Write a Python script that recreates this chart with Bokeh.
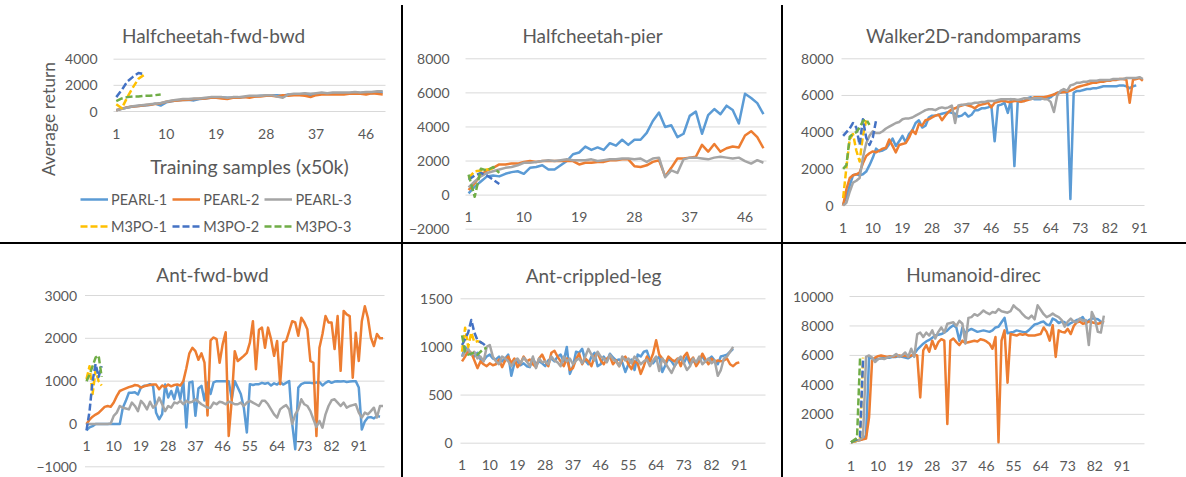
from bokeh.plotting import figure
from bokeh.models import FixedTicker, Range1d, Label, Legend, LegendItem, Div
from bokeh.layouts import row, column
from bokeh.embed import file_html
from bokeh.resources import INLINE

# ---------------- data ----------------
SERIES = ["PEARL-1", "PEARL-2", "PEARL-3", "M3PO-1", "M3PO-2", "M3PO-3"]
TICKS_49 = [1, 10, 19, 28, 37, 46]
TICKS_91 = [1, 10, 19, 28, 37, 46, 55, 64, 73, 82, 91]

# Halfcheetah-fwd-bwd
hfb_pearl1 = [100, 200, 300, 380, 420, 450, 500, 600, 450, 700, 780, 850, 880, 900, 850, 950, 1000, 1050, 1050, 1100,
              1050, 1050, 1050, 1100, 1150, 1150, 1200, 1200, 1250, 1250, 1200, 1300, 1300, 1300, 1350, 1200, 1350, 1350, 1400, 1400,
              1400, 1400, 1400, 1400, 1400, 1450, 1400, 1450, 1450]
hfb_pearl2 = [100, 220, 320, 380, 420, 480, 520, 580, 620, 750, 800, 850, 880, 900, 950, 980, 1000, 1050, 1050, 1000,
              950, 1050, 1050, 1100, 1050, 1150, 1150, 1200, 1200, 1150, 1250, 1200, 1250, 1250, 1200, 1100, 1250, 1300, 1300, 1300,
              1300, 1300, 1350, 1350, 1350, 1300, 1400, 1350, 1300]
hfb_pearl3 = [100, 200, 300, 400, 450, 500, 550, 600, 650, 750, 850, 900, 950, 950, 1000, 1000, 1050, 1100, 1100, 1100,
              1050, 1100, 1100, 1150, 1200, 1200, 1200, 1250, 1250, 1150, 1050, 1300, 1350, 1350, 1400, 1350, 1400, 1450, 1400, 1450,
              1450, 1450, 1450, 1500, 1450, 1500, 1500, 1550, 1550]
hfb_m3po1 = [550, 250, 1100, 1850, 2500, 2800]
hfb_m3po2 = [1100, 1650, 2300, 2650, 2950, 2850]
hfb_m3po3 = [800, 1000, 1100, 1150, 1150, 1200, 1200, 1250, 1300]

# Halfcheetah-pier
hp_pearl1 = [100, 500, 800, 1100, 1150, 1100, 1250, 1350, 1400, 1250, 1600, 1650, 1750, 1500, 1500, 1750, 2000, 2400, 2500, 2850,
             2650, 2800, 2650, 3050, 2900, 3250, 2950, 3250, 3250, 3650, 4350, 4850, 4000, 4100, 3400, 3600, 4650, 4900, 3600, 4700,
             5050, 4750, 5250, 5000, 4200, 5950, 5700, 5400, 4750]
hp_pearl2 = [300, 700, 1200, 1450, 1600, 1800, 1800, 1850, 1850, 1950, 2000, 1950, 2000, 2000, 2000, 2000, 2000, 2000, 1800, 1900,
             1900, 1950, 1950, 2050, 2050, 2100, 2100, 1700, 1650, 1750, 1950, 2050, 1100, 1600, 2150, 2150, 2200, 2250, 2950, 2550,
             3000, 2550, 2750, 2850, 2800, 3500, 3750, 3400, 2750]
hp_pearl3 = [450, 800, 1100, 1300, 1400, 1500, 1600, 1650, 1750, 1900, 1900, 1950, 2000, 2050, 2000, 2050, 2100, 2050, 2050, 2050,
             2100, 2000, 2050, 2100, 2100, 2150, 2150, 2100, 2150, 1950, 2150, 2200, 1050, 1450, 1300, 2100, 2200, 2200, 2150, 2100,
             2200, 2250, 2200, 2150, 2200, 2000, 1850, 2050, 1900]
hp_m3po1 = [1000, 1400, 1450, 1500, 1550]
hp_m3po2 = [900, 1150, 1300, 1150, 900, 650]
hp_m3po3 = [1200, -100, 1550, 1450, 1650, 1300]

# Walker2D-randomparams
w_pearl1 = [50, 500, 1100, 1650, 1700, 1650, 1700, 1850, 2200, 2600, 3100, 2950, 3000, 3100, 3350, 3650, 3250, 3500, 3800, 3450,
            3900, 4100, 4500, 4650, 4250, 4350, 4800, 4900, 4900, 4950, 5000, 5050, 5100, 5050, 5000, 4850, 4900, 5050, 4850, 4950,
            5200, 5200, 5300, 5300, 5350, 5450, 3500, 5450, 5500, 5600, 5050, 5800, 2150, 5650, 5700, 5700, 5850, 5900, 5800, 5800,
            5800, 5850, 5850, 5900, 6050, 6150, 6150, 6200, 6150, 350, 6150, 6250, 6250, 6300, 6350, 6350, 6400, 6400, 6450, 6500,
            6500, 6500, 6500, 6500, 6550, 6550, 6500, 6400, 6500, 6550]
w_pearl2 = [0, 900, 1500, 1650, 1700, 1800, 2300, 2700, 2850, 2950, 2900, 3000, 3100, 3150, 3600, 3250, 2900, 3300, 3350, 3400,
            3700, 4100, 3900, 4450, 4350, 4650, 4700, 4800, 4900, 4950, 4650, 4900, 5100, 5250, 5300, 5400, 5450, 5500, 5450, 5400,
            5300, 5450, 5500, 5550, 5600, 5350, 5600, 5650, 5700, 5700, 5650, 5650, 5700, 5700, 5650, 5700, 5750, 5800, 5900, 5900,
            5900, 5900, 5950, 6000, 6050, 6150, 6180, 6180, 6200, 6270, 6350, 6450, 6500, 6550, 6600, 6650, 6700, 6700, 6750, 6750,
            6800, 6800, 6850, 6850, 6900, 6900, 6850, 5600, 6850, 6900, 6950, 6800]
w_pearl3 = [0, 150, 750, 1250, 1350, 1500, 2600, 3400, 3800, 4050, 3950, 3950, 4050, 4200, 4300, 4400, 4500, 4550, 4700, 4750,
            4750, 4800, 4900, 5000, 5100, 5200, 5250, 5250, 5200, 5300, 5350, 5300, 5350, 5450, 4500, 5450, 5500, 5500, 5550, 5550,
            5600, 5600, 5650, 5650, 5700, 5700, 5700, 5750, 5800, 5800, 5800, 5800, 5800, 5750, 5800, 5850, 5850, 5800, 5850, 5850,
            5850, 5800, 5800, 5650, 5100, 6000, 6250, 6350, 6250, 6550, 6600, 6700, 6700, 6750, 6750, 6800, 6800, 6800, 6850, 6850,
            6850, 6850, 6900, 6900, 6900, 6900, 6950, 6950, 6950, 6950, 7000, 6900]
w_m3po1 = [400, 2100, 3600, 3900, 3000, 2400, 3800, 4650]
w_m3po2 = [3800, 4000, 4200, 4500, 4250, 3300, 4700, 3700, 3300, 3700, 4650]
w_m3po3 = [2000, 2200, 3750, 3900, 4000, 4250, 4600, 4700, 4400]

# Ant-fwd-bwd
af_pearl1 = [-150, -80, -50, 0, 0, 0, 0, 0, 0, 0, 0, 0, 380, 540, 730, 730, 740, 690, 850, 890,
             900, 930, 890, 260, 110, 230, 920, 620, 770, 580, 870, 580, 1000, -80, 970, 990, 190, 830, 890, 550,
             970, 700, 970, 1000, 1000, 1000, 1000, 1000, 580, 1000, 850, 700, 380, -200, 930, 910, 930, 930, 960, 940,
             960, 900, 950, 920, 980, 920, 960, 1000, 0, -590, 850, 930, 960, 960, 960, 950, 970, 980, 900, 960,
             1000, 960, 990, 1000, 990, 1000, 980, 990, 1000, 1000, 850, -130, 60, 150, 160, 130, 190, 170]
af_pearl2 = [0, 100, 170, 220, 260, 330, 400, 420, 400, 500, 650, 770, 800, 830, 860, 880, 910, 900, 850, 880,
             900, 910, 920, 920, 810, 900, 860, 920, 880, 910, 920, 900, 1000, 1300, 1650, 1780, 1700, 1500, 1650, 1430,
             200, 1950, 2020, 1980, 1430, 1860, 2140, -280, 550, 1700, 1470, 1530, 1590, 1660, 1900, 2400, 1280, 2200, 2250, 1780,
             2250, 1980, 1590, 1940, 930, 1900, 1940, 2170, 2400, 2370, 2060, 2480, 2370, 2210, 1470, 1430, -280, 1780, 2100, 2520,
             2370, 2370, 1750, 2520, 1240, 2640, 2560, 2520, 1080, 2130, 1470, 2400, 2750, 2480, 2020, 1820, 2100, 2000, 2000]
af_pearl3 = [0, 0, 0, 0, 0, 0, 0, 0, 10, 190, 265, 420, 380, 360, 340, 500, 420, 300, 540, 460,
             340, 520, 380, 450, 615, 460, 300, 420, 380, 500, 480, 540, 460, 540, 500, 520, 576, 520, 460, 420,
             380, 380, 500, 460, 520, 500, 460, 520, 500, 460, 460, 500, 420, 500, 540, 500, 460, 420, 540, 540,
             460, 340, 225, 150, 340, 400, 440, 340, 0, 225, 340, 576, 460, 420, 300, 110, -70, 70, -85, 225,
             420, 553, 576, 500, 420, 500, 380, 420, 440, 460, 265, 150, 265, 225, 300, 380, 150, 420, 420]
af_m3po1 = [1050, 1350, 700, 1250, 1000, 900]
af_m3po2 = [-150, 300, 1000, 1400, 1100, 1350]
af_m3po3 = [1000, 1150, 1350, 1550, 1600, 1100]

# Ant-crippled-leg
ac_pearl1 = [900, 1000, 960, 920, 900, 940, 870, 860, 900, 920, 880, 870, 900, 850, 880, 920, 700, 830, 850, 810,
             830, 800, 790, 880, 820, 850, 830, 800, 860, 880, 850, 900, 920, 850, 1000, 720, 800, 950, 940, 980,
             860, 820, 900, 940, 800, 820, 900, 850, 930, 890, 860, 870, 840, 740, 820, 870, 760, 920, 900, 950,
             960, 860, 830, 870, 900, 740, 810, 880, 850, 800, 850, 880, 830, 900, 820, 860, 820, 880, 900, 850,
             870, 900, 860, 820, 900, 910, 920, 950, 980]
ac_pearl2 = [850, 900, 960, 940, 860, 780, 850, 820, 800, 830, 810, 820, 870, 790, 860, 900, 830, 880, 790, 830,
             900, 850, 870, 820, 790, 880, 920, 850, 800, 940, 960, 900, 850, 800, 880, 760, 780, 870, 930, 820,
             880, 850, 800, 900, 940, 860, 820, 880, 900, 820, 860, 800, 870, 900, 820, 770, 850, 830, 720, 800,
             900, 850, 930, 1070, 920, 880, 830, 900, 870, 850, 880, 800, 900, 940, 850, 890, 800, 850, 930, 870,
             820, 880, 840, 860, 850, 860, 880, 820, 800, 830, 840]
ac_pearl3 = [900, 950, 980, 920, 950, 880, 900, 850, 1000, 1020, 900, 850, 820, 900, 880, 850, 800, 850, 880, 830,
             890, 850, 800, 900, 780, 880, 840, 850, 820, 900, 860, 840, 800, 900, 850, 880, 820, 860, 880, 830,
             900, 980, 920, 860, 950, 900, 880, 840, 920, 870, 850, 800, 900, 860, 880, 830, 900, 870, 820, 850,
             870, 800, 860, 900, 750, 880, 830, 780, 730, 800, 870, 900, 830, 760, 800, 880, 840, 900, 820, 850,
             880, 830, 860, 700, 760, 880, 900, 950, 1000]
ac_m3po1 = [950, 1200, 1000, 1150, 1050, 1060, 1050, 1020]
ac_m3po2 = [1020, 1080, 1150, 1280, 1150, 1070, 1050, 1030, 1000]
ac_m3po3 = [1120, 950, 920, 930, 940, 920, 950, 980, 990]

# Humanoid-direc
hd_pearl1 = [100, 150, 200, 250, 350, 550, 5850, 5800, 5750, 5750, 5800, 5800, 5850, 5850, 5900, 5900, 5950, 5900, 5850, 5800,
             5950, 6100, 6400, 6600, 6800, 6950, 7050, 7200, 7350, 7400, 7450, 7550, 7700, 7900, 8050, 7900, 7000, 7900, 7500, 7700,
             7800, 7700, 7600, 7650, 7700, 7650, 7600, 7700, 7900, 7950, 8250, 8550, 7500, 7550, 7600, 7700, 7650, 7600, 7550, 7700,
             7900, 8100, 8150, 8250, 8300, 8100, 8050, 8500, 8400, 8200, 8300, 8250, 8050, 8200, 8300, 8400, 8450, 8600, 8200, 8400,
             8500, 8500, 8450, 8300, 8200]
hd_pearl2 = [100, 150, 200, 250, 300, 350, 1800, 5650, 5850, 5950, 6000, 5950, 5900, 5950, 5900, 5950, 6000, 5950, 6000, 5900,
             6000, 6050, 6000, 3150, 6350, 6700, 6250, 7000, 6450, 6900, 7100, 7000, 1350, 7000, 7150, 6900, 6700, 7000, 6850, 6900,
             6950, 7000, 6950, 7100, 7050, 6950, 6800, 6450, 7250, 100, 7000, 7700, 4150, 7450, 7400, 7350, 7450, 7400, 7450, 7350,
             7350, 7350, 7400, 7450, 7900, 7600, 7000, 8050, 5900, 7700, 7600, 7550, 7800, 7450, 8000, 8250, 8300, 8150, 8200, 8300,
             8250, 8200, 8150, 8200, 8350]
hd_pearl3 = [100, 150, 200, 300, 450, 5900, 6000, 5850, 5550, 5750, 5800, 5750, 5850, 5900, 5950, 6100, 5900, 6000, 6200, 5900,
             6450, 5900, 7450, 7550, 7250, 7550, 7350, 7700, 7150, 7600, 7900, 7550, 8150, 8200, 8250, 8000, 8350, 8150, 6800, 8550,
             8600, 8800, 8700, 8850, 9050, 8900, 8800, 8950, 8900, 9150, 9000, 8950, 8900, 9000, 9400, 9200, 9050, 8800, 8600, 8500,
             8700, 8450, 9400, 9100, 8800, 8600, 8700, 8850, 8700, 8600, 8400, 7950, 8300, 8500, 8300, 8250, 8500, 8350, 8400, 6700,
             8950, 8500, 7600, 7550, 8700]
hd_m3po1 = [100, 150, 250, 350, 5850]
hd_m3po2 = [100, 200, 300, 450, 5750]
hd_m3po3 = [100, 250, 400, 5800]

# ---------------- style ----------------
FONT = "Lato"
TXT = "#595959"
GRID = "#D9D9D9"
COLORS = ["#5B9BD5", "#ED7D31", "#A5A5A5", "#FFC000", "#4472C4", "#70AD47"]
DASHES = ["solid", "solid", "solid", "7 3", "7 3", "7 3"]


class Panel:
    """Figure whose frame fills the whole canvas; the plot area is placed by L/R/T/B (pixels)."""

    def __init__(self, title, series, n_cat, y_lo, y_hi, y_step, x_ticks, w, h,
                 L, R, T, B, ystand, tx, tb):
        self.d = (R - L) / n_cat
        self.x0 = 0.5 - L / self.d
        x1 = n_cat + 0.5 + (w - R) / self.d
        self.k = (y_hi - y_lo) / (B - T)
        self.y1 = y_hi + T * self.k
        y0 = y_lo - (h - B) * self.k
        p = figure(width=w, height=h, output_backend="svg", toolbar_location=None,
                   x_range=Range1d(self.x0, x1), y_range=Range1d(y0, self.y1),
                   min_border=0, outline_line_color=None, background_fill_color="white",
                   border_fill_color="white", margin=0)
        p.xgrid.visible = False
        p.ygrid.visible = False
        yt = list(range(y_lo, y_hi + 1, y_step))
        p.segment(x0=[0.5] * len(yt), y0=yt, x1=[n_cat + 0.5] * len(yt), y1=yt,
                  line_color=GRID, line_width=1)
        p.xaxis.ticker = FixedTicker(ticks=x_ticks)
        p.yaxis.ticker = FixedTicker(ticks=yt)
        p.xaxis.fixed_location = 0
        p.yaxis.fixed_location = 0.5
        for ax in (p.xaxis[0], p.yaxis[0]):
            ax.axis_line_color = None
            ax.major_tick_line_color = None
            ax.minor_tick_line_color = None
            ax.major_tick_out = 0
            ax.major_tick_in = 0
            ax.major_label_text_font = FONT
            ax.major_label_text_font_size = "14px"
            ax.major_label_text_color = TXT
        p.xaxis.major_label_standoff = 17
        p.yaxis.major_label_standoff = ystand

        self.renderers = []
        for vals, col, dash in zip(series, COLORS, DASHES):
            xs = list(range(1, len(vals) + 1))
            r = p.line(xs, vals, line_color=col, line_width=2.5, line_dash=dash, line_join="round")
            self.renderers.append(r)
        self.p = p
        self.text(title, tx, tb, "19px")

    def xd(self, px):
        return self.x0 + px / self.d

    def yd(self, py):
        return self.y1 - py * self.k

    def text(self, s, px, py, size, angle=0.0):
        self.p.add_layout(Label(x=self.xd(px), y=self.yd(py), text=s, angle=angle,
                                text_align="center", text_baseline="alphabetic", text_font=FONT,
                                text_font_size=size, text_color=TXT))


P1 = Panel("Halfcheetah-fwd-bwd", [hfb_pearl1, hfb_pearl2, hfb_pearl3, hfb_m3po1, hfb_m3po2, hfb_m3po3],
           49, 0, 4000, 2000, TICKS_49, 401, 242, 113, 385, 58.7, 111, 16, 213, 34.5)
P2 = Panel("Halfcheetah-pier", [hp_pearl1, hp_pearl2, hp_pearl3, hp_m3po1, hp_m3po2, hp_m3po3],
           49, -2000, 8000, 2000, TICKS_49, 378, 242, 62, 363, 58.3, 228.7, 16, 189, 34.5)
P3 = Panel("Walker2D-randomparams", [w_pearl1, w_pearl2, w_pearl3, w_m3po1, w_m3po2, w_m3po3],
           92, 0, 8000, 2000, TICKS_91, 403, 242, 58, 361, 58.3, 205, 8, 190, 35)
P4 = Panel("Ant-fwd-bwd", [af_pearl1, af_pearl2, af_pearl3, af_m3po1, af_m3po2, af_m3po3],
           99, -1000, 3000, 1000, TICKS_91, 401, 233, 84.5, 384, 51, 222.3, 8, 212, 29.5)
P5 = Panel("Ant-crippled-leg", [ac_pearl1, ac_pearl2, ac_pearl3, ac_m3po1, ac_m3po2, ac_m3po3],
           99, 0, 1500, 500, TICKS_91, 378, 233, 57, 362, 54.3, 198.7, 8, 190, 30.5)
P6 = Panel("Humanoid-direc", [hd_pearl1, hd_pearl2, hd_pearl3, hd_m3po1, hd_m3po2, hd_m3po3],
           98, 0, 10000, 2000, TICKS_91, 403, 233, 66, 361, 52, 199.3, 16, 190, 29.5)

# axis titles and legend of the first panel
P1.text("Average return", 48, 118.5, "17.5px", angle=1.5708)
P1.text("Training samples (x50k)", 249, 166, "19.5px")
legend = Legend(items=[LegendItem(label=s, renderers=[r]) for s, r in zip(SERIES, P1.renderers)],
                location=(80, 5), orientation="horizontal", ncols=3,
                glyph_width=28, glyph_height=20, label_height=22, label_standoff=3, spacing=5,
                padding=0, margin=0, border_line_alpha=0, background_fill_alpha=0,
                label_text_font=FONT, label_text_font_size="14.5px", label_text_color=TXT)
P1.p.add_layout(legend)


def sep(w, h, top=0):
    return Div(width=w, height=h, margin=(top, 0, 0, 0), styles={"background-color": "#000000"})


top = row(P1.p, sep(2, 237, 5), P2.p, sep(2, 237, 5), P3.p, spacing=0)
bottom = row(P4.p, sep(2, 233), P5.p, sep(2, 233), P6.p, spacing=0)
page = column(top, sep(1186, 2), bottom, spacing=0)

open("out.html", "w").write(file_html(page, INLINE, title="PEARL vs M3PO"))
